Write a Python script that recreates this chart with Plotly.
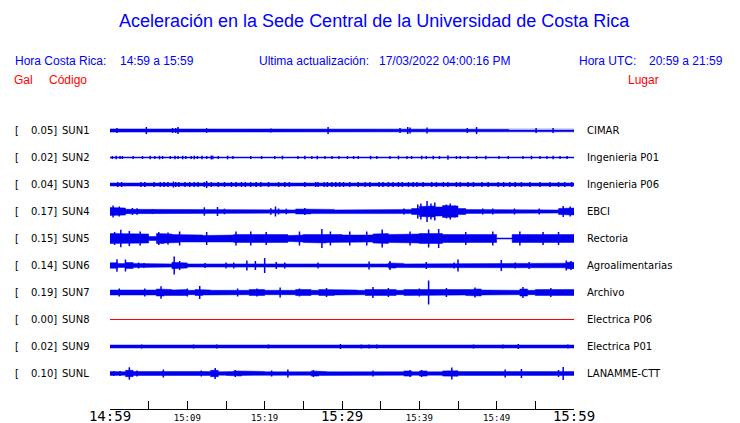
import plotly.graph_objects as go

# ---------------- data ----------------
stations = ["SUN1", "SUN2", "SUN3", "SUN4", "SUN5", "SUN6", "SUN7", "SUN8", "SUN9", "SUNL"]
places = ["CIMAR", "Ingenieria P01", "Ingenieria P06", "EBCI", "Rectoria",
          "Agroalimentarias", "Archivo", "Electrica P06", "Electrica P01", "LANAMME-CTT"]
peak_gal = ["0.05", "0.02", "0.04", "0.17", "0.15", "0.14", "0.19", "0.00", "0.02", "0.10"]

tick_minutes = [0, 5, 10, 15, 20, 25, 30, 35, 40, 45, 50, 55, 60]
tick_labels = ["14:59", "", "15:09", "", "15:19", "", "15:29", "", "15:39", "", "15:49", "", "15:59"]
major_labels = ["14:59", "15:29", "15:59"]

# per-minute envelope (half amplitude, display units)
env_SUN1 = [1.6, 1.6, 1.6, 1.4, 1.3, 1.3, 1.3, 1.3, 1.4, 1.3, 1.2, 1.3, 1.3, 1.3, 1.3, 1.3, 1.3, 1.3, 1.3, 1.3,
            1.3, 1.3, 1.3, 1.3, 1.2, 1.2, 1.2, 1.3, 1.3, 1.3, 1.3, 1.3, 1.3, 1.3, 1.3, 1.3, 1.3, 1.4, 1.5, 1.3,
            1.3, 1.3, 1.3, 1.3, 1.3, 1.3, 1.3, 1.4, 1.3, 1.3, 1.3, 1.3, 1.3, 1.3, 1.3, 1.3, 1.3, 1.3, 1.3, 1.3]
env_SUN2 = [0.5] * 60
env_SUN3 = [1.5] * 60
env_SUN4 = [4.0, 3.5, 2.2, 1.6, 1.6, 1.6, 1.6, 1.6, 2.1, 1.8, 1.6, 1.6, 1.6, 1.6, 1.6, 1.6, 1.6, 1.6, 2.1, 2.1,
            1.6, 1.6, 1.6, 1.6, 2.5, 2.5, 2.1, 2.1, 2.1, 1.6, 1.6, 1.6, 1.6, 1.6, 1.6, 1.6, 2.3, 2.3, 2.1, 3.0,
            5.0, 5.5, 4.5, 6.0, 5.5, 3.0, 2.0, 1.6, 1.6, 1.6, 1.6, 1.6, 1.6, 1.6, 1.6, 1.6, 1.6, 1.6, 3.0, 3.5]
env_SUN5 = [5.0, 5.0, 4.5, 4.5, 4.5, 2.0, 5.0, 4.5, 4.0, 3.5, 3.5, 3.5, 3.0, 3.0, 3.5, 3.5, 4.0, 4.5, 4.5, 4.5,
            4.0, 4.5, 4.0, 3.0, 3.5, 4.0, 4.5, 4.5, 4.0, 4.0, 3.5, 4.0, 4.0, 3.5, 4.5, 5.0, 4.0, 4.0, 4.5, 4.5,
            5.0, 5.5, 5.0, 4.0, 3.5, 3.5, 3.5, 3.5, 3.5, 4.0, 0.5, 0.5, 4.0, 4.0, 4.0, 4.0, 4.0, 4.0, 4.0, 4.0]
env_SUN6 = [2.8, 1.9, 3.0, 2.1, 1.7, 2.1, 1.9, 1.6, 3.2, 2.6, 1.6, 1.9, 1.6, 1.6, 1.9, 1.9, 1.6, 2.3, 2.3, 1.6,
            2.3, 2.1, 1.6, 1.6, 1.6, 2.3, 1.9, 1.9, 1.6, 1.7, 1.6, 1.6, 1.6, 2.3, 1.6, 1.6, 2.6, 2.1, 1.6, 1.6,
            1.9, 1.6, 1.6, 1.9, 2.1, 1.9, 1.9, 2.1, 1.6, 1.6, 1.9, 1.6, 1.6, 2.1, 2.1, 1.6, 1.6, 1.6, 2.3, 3.2]
env_SUN7 = [2.5, 2.5, 2.2, 2.2, 2.5, 2.5, 3.5, 3.0, 2.5, 3.0, 2.2, 3.0, 2.5, 2.2, 2.2, 2.5, 2.5, 2.2, 3.0, 3.0,
            2.2, 2.5, 2.5, 2.2, 3.0, 3.0, 2.2, 3.0, 3.0, 2.5, 2.5, 2.5, 2.2, 3.0, 3.0, 2.5, 3.0, 2.2, 3.0, 2.5,
            2.5, 2.5, 2.5, 2.5, 3.0, 2.5, 3.0, 3.5, 2.5, 2.5, 2.5, 2.2, 2.2, 3.5, 2.2, 3.0, 3.5, 3.5, 3.0, 3.0]
env_SUN8 = [0.0] * 60
env_SUN9 = [1.5] * 60
env_SUNL = [1.9, 1.7, 3.2, 2.0, 2.0, 1.9, 1.9, 1.7, 2.0, 2.0, 2.0, 1.9, 2.0, 3.2, 1.7, 1.9, 2.6, 1.9, 2.0, 2.0,
            1.7, 2.0, 1.7, 2.3, 1.7, 1.7, 2.6, 1.9, 1.7, 1.7, 2.0, 1.7, 1.7, 2.3, 1.9, 1.9, 1.9, 1.7, 2.6, 1.7,
            2.6, 1.7, 1.7, 2.6, 2.8, 1.9, 1.9, 2.0, 1.7, 1.7, 1.7, 2.3, 1.7, 2.3, 1.9, 1.7, 2.0, 1.7, 2.3, 1.9]

# isolated spikes: minute, half amplitude
spk_SUN1_t = [0.9, 4.7, 8.1, 8.5, 8.8, 12.5, 20.8, 28.2, 37.5, 38.5, 38.8, 41.0, 46.2, 47.4, 55.1, 57.3]
spk_SUN1_a = [2.5, 3.5, 2.5, 2.5, 3.5, 2.3, 2.0, 3.5, 2.5, 3.5, 3.0, 3.0, 2.5, 3.5, 2.5, 2.5]
spk_SUN2_t = [0.3, 0.8, 1.3, 1.6, 3.0, 4.2, 5.2, 5.8, 6.4, 6.8, 7.8, 8.4, 8.8, 9.4, 9.8, 10.5, 10.9, 11.3,
              11.9, 12.5, 13.1, 13.3, 14.0, 15.2, 15.9, 18.2, 19.6, 21.3, 22.3, 24.3, 25.2, 26.1, 26.8, 27.8,
              28.7, 29.6, 30.7, 31.5, 32.1, 33.7, 34.5, 36.2, 37.3, 38.4, 39.0, 40.3, 40.9, 41.8, 42.6, 43.7,
              44.8, 45.3, 46.3, 47.4, 48.6, 50.3, 51.5, 53.4, 54.5, 55.6, 56.5, 57.3, 58.2, 59.1]
spk_SUN2_a = [1.5, 1.8, 1.5, 1.5, 1.5, 1.5, 1.8, 1.5, 1.8, 1.5, 1.5, 1.8, 1.5, 1.8, 1.5, 1.5, 1.8, 1.5,
              1.8, 1.5, 2.0, 1.8, 1.5, 1.8, 1.5, 1.5, 1.5, 1.5, 1.8, 1.5, 1.8, 1.5, 1.8, 1.5,
              1.5, 1.5, 1.5, 1.5, 1.5, 1.8, 1.5, 1.5, 1.8, 1.5, 1.5, 1.8, 1.5, 1.8, 1.5, 2.2,
              1.5, 1.5, 1.5, 1.5, 1.8, 1.5, 1.5, 1.5, 1.8, 1.5, 1.5, 1.8, 1.5, 1.5]
spk_SUN3_t = [1.0, 1.5, 4.0, 4.5, 5.7, 6.5, 7.0, 7.5, 8.2, 8.5, 8.9, 9.7, 10.3, 10.9, 11.4, 12.2, 12.5, 13.1,
              14.0, 14.8, 15.7, 16.3, 17.0, 17.5, 18.2, 18.9, 19.5, 20.5, 21.8, 22.6, 23.2, 25.2, 26.6, 26.9,
              27.7, 28.1, 28.7, 29.2, 29.7, 30.2, 31.0, 32.1, 33.0, 33.6, 34.8, 35.3, 36.0, 36.6, 37.3, 37.8,
              38.6, 39.2, 39.7, 40.5, 41.6, 42.2, 43.1, 43.7, 44.8, 45.3, 46.3, 47.0, 48.1, 48.9, 50.2, 50.9,
              51.7, 52.4, 53.2, 54.3, 55.6, 56.9, 58.0, 58.8, 59.7]
spk_SUN3_a = [2.5, 2.5, 2.5, 2.5, 2.5, 2.5, 2.5, 2.5, 3.0, 2.5, 2.5, 2.5, 2.5, 2.5, 2.5, 2.5, 3.5, 2.5,
              2.5, 2.5, 2.5, 2.5, 2.5, 2.5, 2.5, 2.5, 2.5, 2.5, 2.5, 2.5, 2.5, 2.5, 2.5, 2.5,
              2.5, 2.5, 2.5, 2.5, 2.5, 2.5, 2.5, 2.5, 2.5, 2.5, 2.5, 2.5, 2.5, 2.5, 2.5, 2.5,
              2.5, 2.5, 2.5, 2.5, 2.5, 2.5, 2.5, 2.5, 2.5, 2.5, 2.5, 2.5, 2.5, 2.5, 2.5, 2.5,
              2.5, 2.5, 2.5, 2.5, 2.5, 2.5, 2.5, 2.5, 2.5]
spk_SUN4_t = [0.4, 1.2, 2.9, 3.5, 5.5, 12.2, 13.9, 14.8, 20.8, 21.4, 21.8, 22.8, 25.2, 38.0, 39.8, 40.2,
              41.0, 41.5, 42.0, 43.5, 44.0, 44.6, 48.2, 49.5, 52.3, 55.5, 58.6, 59.5]
spk_SUN4_a = [6.0, 5.0, 3.5, 3.2, 2.5, 4.2, 4.5, 2.8, 3.2, 5.0, 3.0, 2.8, 3.5, 3.0, 7.0, 8.0,
              10.5, 8.0, 9.0, 7.0, 8.0, 6.0, 3.0, 3.0, 3.0, 3.0, 5.5, 5.0]
spk_SUN5_t = [0.6, 1.4, 2.5, 3.9, 6.3, 7.5, 9.0, 12.5, 16.3, 18.2, 20.2, 24.5, 27.4, 28.5, 31.0, 33.2,
              35.2, 38.8, 41.2, 42.5, 46.0, 49.5, 53.0, 56.0, 58.0]
spk_SUN5_a = [6.5, 8.7, 7.5, 7.0, 6.5, 6.0, 7.0, 6.5, 7.0, 7.0, 6.5, 7.0, 9.5, 7.0, 7.0, 7.0,
              9.0, 7.0, 9.0, 9.5, 6.5, 7.0, 7.0, 6.5, 6.5]
spk_SUN6_t = [0.9, 2.0, 3.7, 4.4, 8.3, 9.0, 12.3, 15.0, 16.0, 17.7, 18.8, 20.0, 21.5, 22.6, 26.9,
              33.5, 36.2, 40.9, 44.5, 45.0, 50.6, 52.4, 54.2, 59.0, 59.6]
spk_SUN6_a = [6.3, 6.0, 3.0, 2.5, 9.0, 4.5, 2.5, 3.0, 3.0, 5.0, 4.5, 7.5, 3.5, 3.0, 3.0,
              4.0, 4.5, 3.5, 3.0, 6.0, 5.5, 3.0, 3.5, 5.0, 4.5]
spk_SUN7_t = [1.2, 4.5, 6.6, 10.0, 11.6, 16.5, 19.0, 22.0, 24.5, 28.0, 34.0, 36.0, 40.0, 41.2, 43.5,
              47.2, 53.4, 57.0]
spk_SUN7_a = [4.0, 4.0, 6.3, 4.0, 6.5, 4.0, 4.0, 5.0, 4.0, 4.5, 5.5, 4.5, 4.0, 12.0, 4.5,
              5.0, 5.5, 4.5]
spk_SUN8_t = []
spk_SUN8_a = []
spk_SUN9_t = [4.1, 10.8, 13.8, 20.5, 29.8, 32.5, 33.5, 34.5, 47.0, 50.8, 52.8, 59.2]
spk_SUN9_a = [2.0, 2.0, 2.0, 2.0, 2.5, 2.0, 2.0, 2.0, 2.0, 2.0, 2.5, 2.0]
spk_SUNL_t = [0.5, 1.3, 2.5, 3.5, 6.9, 11.8, 13.6, 16.2, 20.9, 23.0, 26.3, 34.0, 38.8, 40.3, 44.2,
              51.1, 53.2, 58.0, 58.6]
spk_SUNL_a = [2.5, 2.5, 6.2, 3.0, 4.0, 3.0, 5.5, 3.5, 3.0, 4.0, 3.5, 3.0, 3.5, 3.5, 6.0,
              4.0, 4.5, 3.5, 6.5]

envelopes = [env_SUN1, env_SUN2, env_SUN3, env_SUN4, env_SUN5, env_SUN6, env_SUN7, env_SUN8, env_SUN9, env_SUNL]
spike_t = [spk_SUN1_t, spk_SUN2_t, spk_SUN3_t, spk_SUN4_t, spk_SUN5_t, spk_SUN6_t, spk_SUN7_t, spk_SUN8_t,
           spk_SUN9_t, spk_SUNL_t]
spike_a = [spk_SUN1_a, spk_SUN2_a, spk_SUN3_a, spk_SUN4_a, spk_SUN5_a, spk_SUN6_a, spk_SUN7_a, spk_SUN8_a,
           spk_SUN9_a, spk_SUNL_a]

# ---------------- layout constants ----------------
PAGE_W, PAGE_H = 740, 423
OFF = 8                      # page body margin of the html page
W, H = PAGE_W - OFF, PAGE_H - OFF
ROW0, ROW_STEP = 130.5, 27.0
AXIS_Y = 409
BLUE = "#0000ff"
TRACE_BLUE = "#0000ee"

fig = go.Figure()

for i, st in enumerate(stations):
    c = ROW0 + ROW_STEP * i
    env = envelopes[i]
    if st == "SUN8":
        fig.add_trace(go.Scatter(x=[0, 60], y=[c, c], mode="lines",
                                 line=dict(color="#ff0000", width=1), hoverinfo="skip", showlegend=False))
        continue
    xs, ys = [], []
    for k, a in enumerate(env):
        xs += [k, k + 1]
        ys += [c - a, c - a]
    for k in range(len(env) - 1, -1, -1):
        a = env[k]
        xs += [k + 1, k]
        ys += [c + a, c + a]
    fig.add_trace(go.Scatter(x=xs, y=ys, mode="lines", fill="toself", fillcolor=TRACE_BLUE,
                             line=dict(color=TRACE_BLUE, width=0.5), hoverinfo="skip", showlegend=False))
    fig.add_trace(go.Scatter(x=[0, 60], y=[c, c], mode="lines",
                             line=dict(color=TRACE_BLUE, width=1.1), hoverinfo="skip", showlegend=False))
    sx, sy = [], []
    for t, a in zip(spike_t[i], spike_a[i]):
        sx += [t, t, None]
        sy += [c - a, c + a, None]
    if sx:
        fig.add_trace(go.Scatter(x=sx, y=sy, mode="lines", line=dict(color=TRACE_BLUE, width=1.5),
                                 hoverinfo="skip", showlegend=False))

ticktext = [("<span style='font-size:14px'>%s</span>" % t) if t in major_labels else t for t in tick_labels]

fig.update_layout(
    template="none",
    width=W, height=H, autosize=False,
    margin=dict(l=0, r=0, t=0, b=0, pad=0, autoexpand=False),
    paper_bgcolor="white", plot_bgcolor="white",
    showlegend=False,
    xaxis=dict(domain=[(110 - OFF) / W, (574 - OFF) / W], range=[0, 60], showgrid=False, zeroline=False,
               automargin=False,
               showline=True, linecolor="black", linewidth=1,
               ticks="inside", ticklen=8, tickwidth=1, tickcolor="black",
               tickmode="array", tickvals=tick_minutes, ticktext=ticktext,
               tickfont=dict(family="DejaVu Sans Mono", size=9, color="black")),
    yaxis=dict(domain=[(PAGE_H - AXIS_Y) / H, 1], range=[AXIS_Y, OFF], visible=False,
               automargin=False, showgrid=False, zeroline=False),
)

ann = []


def txt(x, y, s, color, size, family="Liberation Sans", anchor="left"):
    dx = {"left": -2, "right": 2, "center": 0}[anchor]
    ann.append(dict(x=(x - OFF + dx) / W, y=1 - (y - OFF) / H, xref="paper", yref="paper", text=s,
                    showarrow=False, xanchor=anchor, yanchor="middle",
                    font=dict(family=family, size=size, color=color)))


txt(375, 21, "Aceleración en la Sede Central de la Universidad de Costa Rica", BLUE, 18, anchor="center")
txt(15, 61, "Hora Costa Rica:", BLUE, 12)
txt(120, 61, "14:59 a 15:59", BLUE, 12)
txt(259, 61, "Ultima actualización:", BLUE, 12)
txt(379, 61, "17/03/2022 04:00:16 PM", BLUE, 12)
txt(579, 61, "Hora UTC:", BLUE, 12)
txt(649, 61, "20:59 a 21:59", BLUE, 12)
txt(14, 80, "Gal", "red", 12)
txt(49, 80, "Código", "red", 12)
txt(628, 80, "Lugar", "red", 12)

for i, st in enumerate(stations):
    c = ROW0 + ROW_STEP * i
    txt(15, c, "[", "black", 10, family="DejaVu Sans")
    txt(57, c, peak_gal[i] + "]", "black", 10, family="DejaVu Sans", anchor="right")
    txt(62, c, st, "black", 10, family="DejaVu Sans")
    txt(587, c, places[i], "black", 10, family="DejaVu Sans")

fig.update_layout(annotations=ann)
fig.write_html("out.html")
